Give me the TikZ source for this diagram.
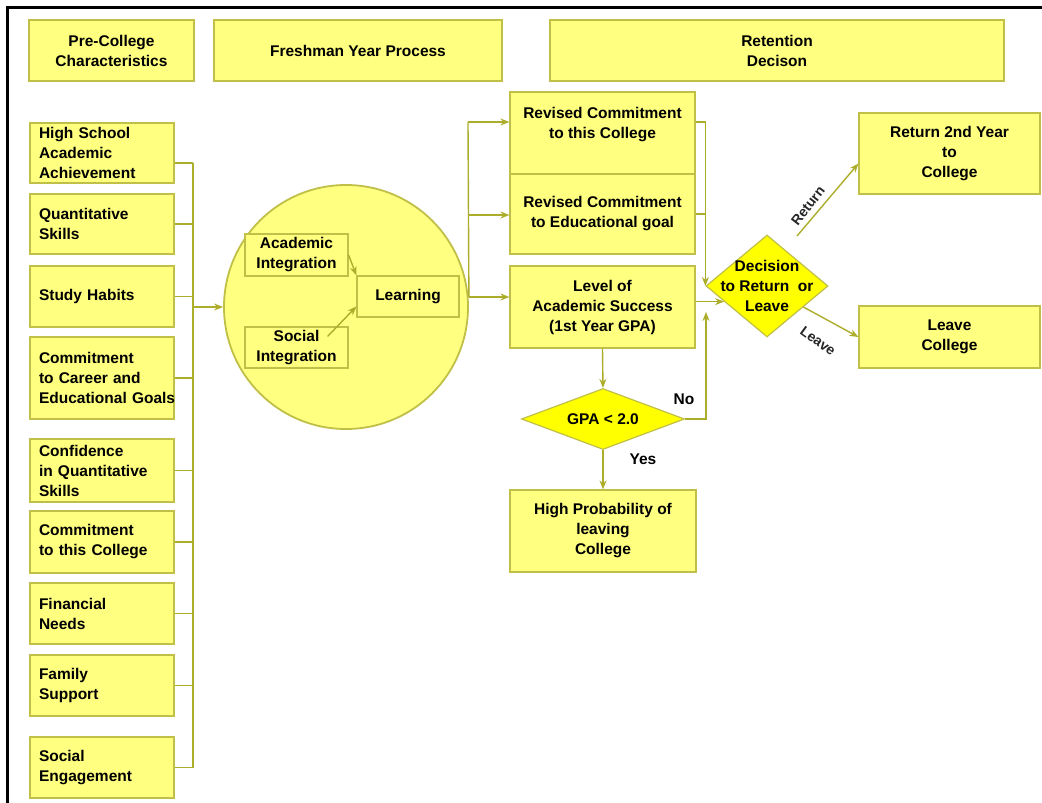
\documentclass[tikz,border=0pt]{standalone}
\usepackage{fontspec}
\setmainfont{Liberation Sans}
\usetikzlibrary{shapes.geometric,arrows.meta,calc}
\definecolor{boxfill}{HTML}{FFFF80}
\definecolor{boxline}{HTML}{C0C048}
\definecolor{linecol}{HTML}{ADAD2C}
\definecolor{diafill}{HTML}{FFFF00}
\begin{document}
\begin{tikzpicture}[x=1pt,y=-1pt,
 box/.style={draw=boxline, fill=boxfill, line width=1.2pt, inner sep=0pt, align=center, font=\fontsize{15.5}{20}\selectfont\bfseries},
 lbox/.style={box, minimum width=144pt, text width=126pt, align=left},
 rbox/.style={box, minimum width=185pt},
 ibox/.style={box, minimum width=103pt, minimum height=42pt},
 dia/.style={diamond, draw=boxline, fill=diafill, line width=1.2pt, inner sep=0pt},
 lbl/.style={font=\fontsize{15.5}{20}\selectfont\bfseries, align=center, inner sep=0pt},
 con/.style={draw=linecol, line width=1.4pt},
 arr/.style={con, -{Stealth[length=9pt,width=7pt]}}
]
\useasboundingbox (0,0) rectangle (1042,803);
\fill[white] (0,0) rectangle (1042,803);
\draw[line width=3pt, line cap=rect] (7,803) -- (7,7) -- (1042,7);

% headers
\node[box, minimum width=165pt, minimum height=61pt] (pc) at (111.5,50.5) {Pre-College\\Characteristics};
\node[box, minimum width=288pt, minimum height=61pt] (fy) at (358,50.5) {Freshman Year Process};
\node[box, minimum width=454pt, minimum height=61pt] (rd) at (777,50.5) {Retention\\Decison};

% left column
\node[lbox, minimum height=60pt] (hs) at (102,153) {High School\\Academic\\Achievement};
\node[lbox, minimum height=60pt] (qs) at (102,224) {Quantitative\\Skills};
\node[lbox, minimum height=61pt] (sh) at (102,296.5) {Study Habits};
\node[lbox, minimum height=82pt] (cc) at (102,378) {Commitment\\to Career and\\\mbox{Educational Goals}};
\node[lbox, minimum height=63pt] (cq) at (102,470.5) {Confidence\\in Quantitative\\Skills};
\node[lbox, minimum height=62pt] (ctc) at (102,542) {Commitment\\to this College};
\node[lbox, minimum height=61pt] (fn) at (102,613.5) {Financial\\Needs};
\node[lbox, minimum height=61pt] (fs) at (102,685.5) {Family\\Support};
\node[lbox, minimum height=61pt] (se) at (102,767.5) {Social\\Engagement};

\coordinate (bx) at (193,0);
\draw[con] ($(hs.east)+(0,10)$) -- ($(hs.east -| bx)+(0,10)$);
\foreach \n in {qs,sh,cc,cq,ctc,fn,fs,se} \draw[con] (\n.east) -- (\n.east -| bx);
\draw[con] ($(hs.east -| bx)+(0,10)$) -- (se.east -| bx);

% circle
\node[circle, draw=boxline, fill=boxfill, line width=1.8pt, minimum size=244pt, inner sep=0pt] (circ) at (346,307) {};
\coordinate (bra) at (193,307);
\draw[arr] (bra) -- (circ.west);

\node[ibox] (ai) at (296.5,255) {Academic\\Integration};
\node[ibox, minimum height=41pt] (si) at (296.5,347.5) {Social\\Integration};
\node[ibox, minimum width=102pt, minimum height=41pt] (learn) at (408,296.5) {Learning};
\draw[arr] (ai.east) -- (learn.north west);
\draw[arr] ($(si.north east)+(-21,10)$) -- ($(learn.west)+(0,10)$);

% middle boxes
\node[rbox, minimum height=82pt] (rcc) at (602.5,133) {Revised Commitment\\to this College\\\mbox{}};
\node[rbox, minimum height=80pt] (reg) at (602.5,214) {Revised Commitment\\to Educational goal};
\node[rbox, minimum height=82pt] (lev) at (602.5,307) {Level of\\Academic Success\\(1st Year GPA)};
\node[rbox, minimum width=186pt, minimum height=82pt] (hp) at (603,531) {High Probability of\\leaving\\College};

\coordinate (v1) at (468,122);
\coordinate (v2) at (468,215);
\coordinate (v3) at (circ.east |- 0,297);
\draw[con] (v3) -- (v1);
\draw[arr] (v1) -- (v1 -| rcc.west);
\draw[arr] (v2) -- (v2 -| reg.west);
\draw[arr] (v3) -- (v3 -| lev.west);

% diamonds
\node[dia, minimum width=122pt, minimum height=102pt] (dec) at (767,286) {};
\node[lbl] (dect) at (dec.center) {Decision\\to Return~ or\\Leave};
\node[dia, minimum width=163pt, minimum height=61pt] (gpa) at (603,419) {};
\node[lbl] (gpat) at (gpa.center) {GPA < 2.0};

% right boxes
\node[box, minimum width=181pt, minimum height=81pt] (ret) at (949.5,153.5) {Return 2nd Year\\to\\College};
\node[box, minimum width=181pt, minimum height=62pt] (lc) at (949.5,337) {Leave\\College};

% connectors to decision
\draw[arr] ($(rcc.east)+(0,-11)$) -| (dec.west);
\draw[con] (reg.east) -- (reg.east -| dec.west);
\draw[arr] (lev.east |- dec.200) -- (dec.200);
\coordinate (nu) at (706,312);
\draw[arr] (gpa.east) -| (nu);
\draw[arr] (lev.south) -- (gpa.north);
\draw[arr] (gpa.south) -- (hp.north);
\coordinate (rs) at (797,236);
\draw[arr] (rs) -- ($(ret.west)+(0,10)$);
\draw[arr] (dec.-30) -- (lc.west);

% labels
\node[lbl] (no) at (684,399) {No};
\node[lbl] (yes) at (643,459) {Yes};
\node[lbl, font=\fontsize{14}{16}\selectfont\bfseries, text=black!85, rotate=52] (retl) at (808,206) {Return};
\node[lbl, font=\fontsize{14}{16}\selectfont\bfseries, text=black!85, rotate=-36] (lvl) at (818,341) {Leave};
\end{tikzpicture}
\end{document}
